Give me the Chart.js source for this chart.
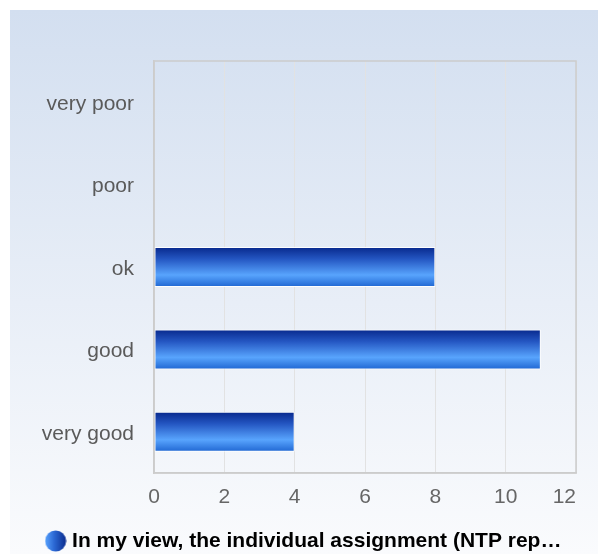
<!DOCTYPE html>
<html>
<head>
<meta charset="utf-8">
<script src="https://cdn.jsdelivr.net/npm/chart.js@4/dist/chart.umd.min.js"></script>
<style>
html,body{margin:0;padding:0;background:#fff;overflow:hidden;}
#wrap{width:598px;height:554px;position:relative;}
</style>
</head>
<body>
<div id="wrap"><canvas id="c" width="598" height="554"></canvas></div>
<script>
const categories = ["very poor", "poor", "ok", "good", "very good"];
const values = [0, 0, 8, 11, 4];
const xTicks = [0, 2, 4, 6, 8, 10, 12];
const seriesLabel = "In my view, the individual assignment (NTP rep\u2026";

// legend sphere icon
const icon = document.createElement('canvas');
icon.width = 22; icon.height = 22;
(function(){
  const g = icon.getContext('2d');
  const gr = g.createLinearGradient(0, 0, 22, 0);
  gr.addColorStop(0, '#5aa5ff');
  gr.addColorStop(0.45, '#2a66d2');
  gr.addColorStop(1, '#0a2a8c');
  g.fillStyle = gr;
  g.beginPath(); g.arc(11, 11, 10.5, 0, Math.PI*2); g.fill();
})();

const bgPlugin = {
  id: 'bg',
  afterLayout(chart) {
    const lg = chart.legend;
    if (lg) { lg.top += 7.5; lg.bottom += 7.5; lg.left += 17.5; lg.right += 17.5; }
  },
  beforeDraw(chart) {
    const ctx = chart.ctx;
    ctx.save();
    ctx.fillStyle = '#ffffff';
    ctx.fillRect(0, 0, chart.width, chart.height);
    const gr = ctx.createLinearGradient(0, 10, 0, chart.height);
    gr.addColorStop(0, '#d3dff0');
    gr.addColorStop(1, '#fafbfd');
    ctx.fillStyle = gr;
    ctx.fillRect(10, 10, chart.width - 10, chart.height - 10);
    ctx.restore();
  },
  afterDatasetsDraw(chart) {
    const a = chart.chartArea, ctx = chart.ctx;
    ctx.save();
    ctx.strokeStyle = '#cccccc';
    ctx.lineWidth = 1.5;
    ctx.strokeRect(a.left, a.top, a.right - a.left, a.bottom - a.top);
    ctx.restore();
  }
};

function barFill(c) {
  const chart = c.chart;
  if (!chart.chartArea || !chart.scales.y) return '#2a66d2';
  const ys = chart.scales.y;
  const yc = ys.getPixelForValue(c.dataIndex);
  const h = ys.height / categories.length * 0.485;
  const gr = chart.ctx.createLinearGradient(0, yc - h/2, 0, yc + h/2);
  gr.addColorStop(0, '#07288c');
  gr.addColorStop(0.3, '#2456c2');
  gr.addColorStop(0.7, '#58a4fd');
  gr.addColorStop(1, '#1f66d2');
  return gr;
}

new Chart(document.getElementById('c'), {
  type: 'bar',
  data: {
    labels: categories,
    datasets: [{
      label: seriesLabel,
      data: values,
      backgroundColor: barFill,
      borderColor: 'rgba(255,255,255,0.9)',
      borderWidth: 1,
      borderSkipped: false,
      categoryPercentage: 1,
      barPercentage: 0.485
    }]
  },
  options: {
    indexAxis: 'y',
    responsive: false,
    animation: false,
    devicePixelRatio: 1,
    layout: { padding: { left: 0, right: 22, top: 61, bottom: 0 } },
    scales: {
      x: {
        min: 0, max: 12,
        afterBuildTicks(s) { s.ticks = xTicks.map(v => ({ value: v })); },
        afterFit(s) { s.height = 46; s.paddingRight = 0; s.paddingLeft = 0; },
        grid: { color: '#e2e2e2', lineWidth: 1, drawTicks: false },
        border: { display: true, color: '#cccccc', width: 1.5 },
        ticks: {
          color: '#666666', font: { family: 'Liberation Sans', size: 21 }, padding: 12,
          callback(v) { return v === 12 ? '12\u2007\u2007' : String(v); }
        }
      },
      y: {
        afterFit(s) { s.width = 154; },
        grid: { display: false, drawTicks: false },
        border: { display: true, color: '#cccccc', width: 1.5 },
        ticks: { color: '#5a5a5a', font: { family: 'Liberation Sans', size: 21 }, padding: 20, labelOffset: 2 }
      }
    },
    plugins: {
      legend: {
        position: 'bottom',
        labels: {
          usePointStyle: true,
          pointStyle: icon,
          pointStyleWidth: 12,
          color: '#333333',
          font: { family: 'Liberation Sans', size: 21, weight: 'bold' },
          padding: 4,
          generateLabels(chart) {
            return [{ text: seriesLabel, pointStyle: icon, fillStyle: '#2a66d2', strokeStyle: '#2a66d2', lineWidth: 0, datasetIndex: 0, hidden: false }];
          }
        }
      },
      tooltip: { enabled: false }
    }
  },
  plugins: [bgPlugin]
});
</script>
</body>
</html>
